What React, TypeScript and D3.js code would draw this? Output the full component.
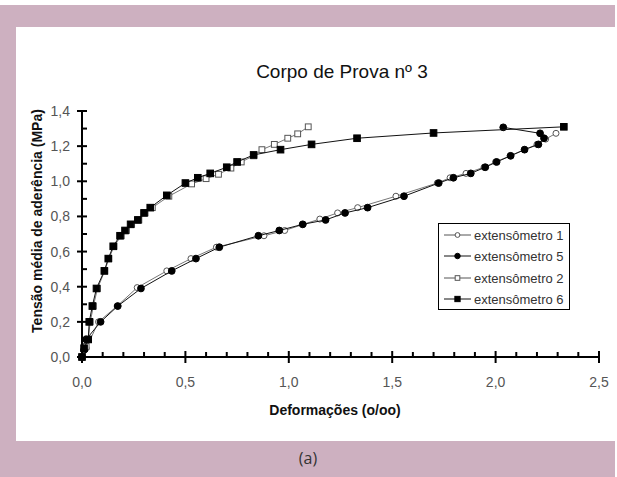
import React from "react";
import * as d3 from "d3";

const titleText = "Corpo de Prova nº 3";
const xTitle = "Deformações (o/oo)";
const yTitle = "Tensão média de aderência (MPa)";
const caption = "(a)";

const xTicks = [0, 0.5, 1.0, 1.5, 2.0, 2.5];
const yTicks = [0, 0.2, 0.4, 0.6, 0.8, 1.0, 1.2, 1.4];
const xMinor = [0.1, 0.2, 0.3, 0.4, 0.6, 0.7, 0.8, 0.9, 1.1, 1.2, 1.3, 1.4, 1.6, 1.7, 1.8, 1.9, 2.1, 2.2, 2.3, 2.4];
const yMinor = [0.1, 0.3, 0.5, 0.7, 0.9, 1.1, 1.3];

const ext1X = [0, 0.02, 0.08, 0.17, 0.267, 0.41, 0.527, 0.65, 0.88, 0.98, 1.07, 1.15, 1.236, 1.333, 1.518, 1.718, 1.78, 1.857, 1.944, 2.0, 2.07, 2.14, 2.2, 2.242, 2.292];
const ext1Y = [0, 0.05, 0.2, 0.29, 0.395, 0.49, 0.56, 0.625, 0.69, 0.72, 0.755, 0.785, 0.82, 0.85, 0.915, 0.99, 1.02, 1.045, 1.08, 1.11, 1.145, 1.18, 1.21, 1.24, 1.273];

const ext5X = [0, 0.01, 0.02, 0.09, 0.173, 0.285, 0.434, 0.551, 0.664, 0.853, 0.954, 1.067, 1.178, 1.272, 1.381, 1.557, 1.725, 1.796, 1.88, 1.95, 2.005, 2.073, 2.14, 2.207, 2.234, 2.215, 2.037];
const ext5Y = [0, 0.04, 0.1, 0.2, 0.29, 0.39, 0.49, 0.56, 0.625, 0.69, 0.72, 0.755, 0.78, 0.82, 0.85, 0.915, 0.99, 1.02, 1.045, 1.08, 1.11, 1.145, 1.18, 1.21, 1.245, 1.273, 1.307];

const ext2X = [0, 0.02, 0.03, 0.04, 0.055, 0.075, 0.11, 0.13, 0.155, 0.19, 0.215, 0.24, 0.275, 0.305, 0.34, 0.42, 0.53, 0.6, 0.66, 0.72, 0.77, 0.83, 0.87, 0.93, 0.995, 1.043, 1.094];
const ext2Y = [0, 0.06, 0.1, 0.2, 0.29, 0.39, 0.49, 0.56, 0.63, 0.69, 0.72, 0.755, 0.78, 0.82, 0.85, 0.915, 0.985, 1.015, 1.04, 1.075, 1.11, 1.145, 1.18, 1.21, 1.245, 1.27, 1.31];

const ext6X = [0, 0.01, 0.03, 0.035, 0.05, 0.07, 0.108, 0.127, 0.151, 0.184, 0.208, 0.235, 0.27, 0.3, 0.33, 0.41, 0.5, 0.56, 0.62, 0.7, 0.75, 0.83, 0.96, 1.11, 1.33, 1.7, 2.33];
const ext6Y = [0, 0.05, 0.1, 0.2, 0.29, 0.39, 0.49, 0.56, 0.63, 0.69, 0.72, 0.755, 0.78, 0.82, 0.85, 0.92, 0.99, 1.02, 1.045, 1.08, 1.11, 1.15, 1.18, 1.21, 1.245, 1.275, 1.31];

type Series = { name: string; xs: number[]; ys: number[]; shape: "circle" | "square"; filled: boolean };
const seriesList: Series[] = [
  { name: "extensômetro 1", xs: ext1X, ys: ext1Y, shape: "circle", filled: false },
  { name: "extensômetro 5", xs: ext5X, ys: ext5Y, shape: "circle", filled: true },
  { name: "extensômetro 2", xs: ext2X, ys: ext2Y, shape: "square", filled: false },
  { name: "extensômetro 6", xs: ext6X, ys: ext6Y, shape: "square", filled: true },
];

const FONT = "'Liberation Sans', Arial, sans-serif";
const PINK = "#cdb0c0";

function Marker({ s, cx, cy, k = 1 }: { s: Series; cx: number; cy: number; k?: number }) {
  const fill = s.filled ? "#000" : "#fff";
  const stroke = s.filled ? "#000" : "#555";
  if (s.shape === "circle") {
    return <circle cx={cx} cy={cy} r={(s.filled ? 3.4 : 3.0) * k} fill={fill} stroke={stroke} strokeWidth={1} />;
  }
  const h = (s.filled ? 3.3 : 2.9) * k;
  return <rect x={cx - h} y={cy - h} width={2 * h} height={2 * h} fill={fill} stroke={stroke} strokeWidth={1} />;
}

export default function App() {
  const x = d3.scaleLinear().domain([0, 2.5]).range([82, 599]);
  const y = d3.scaleLinear().domain([0, 1.4]).range([357, 111]);
  const fmt = (v: number) => d3.format(".1f")(v).replace(".", ",");
  const line = d3
    .line<[number, number]>()
    .x((d) => x(d[0]))
    .y((d) => y(d[1]));

  const legendRows = [235, 256, 278, 299];

  return (
    <svg width={617} height={477} style={{ position: "absolute", left: 0, top: 0 }} xmlns="http://www.w3.org/2000/svg">
      <rect x={0} y={0} width={617} height={477} fill="#fff" />
      <rect x={0} y={5} width={615} height={472} fill={PINK} />
      <rect x={16} y={27} width={601} height={414} fill="#fff" />

      <text x={342} y={78} textAnchor="middle" fontFamily={FONT} fontSize={19} fill="#111">
        {titleText}
      </text>

      {seriesList.map((s) => {
        const pts = s.xs.map((v, i) => [v, s.ys[i]] as [number, number]);
        return (
          <g key={s.name}>
            <path d={line(pts) || ""} fill="none" stroke={s.filled ? "#111" : "#777"} strokeWidth={1} />
            {pts.map((p, i) => (
              <Marker key={i} s={s} cx={x(p[0])} cy={y(p[1])} />
            ))}
          </g>
        );
      })}

      <g stroke="#000" strokeWidth={2}>
        <line x1={x(0)} x2={x(0)} y1={y(1.4)} y2={y(0)} />
        <line x1={x(0)} x2={x(2.5)} y1={y(0)} y2={y(0)} />
        {yTicks.map((t) => (
          <line key={"yt" + t} x1={x(0) - 5} x2={x(0) + 5} y1={y(t)} y2={y(t)} />
        ))}
        {yMinor.map((t) => (
          <line key={"ym" + t} x1={x(0)} x2={x(0) + 5} y1={y(t)} y2={y(t)} />
        ))}
        {xTicks.map((t) => (
          <line key={"xt" + t} x1={x(t)} x2={x(t)} y1={y(0) - 6} y2={y(0) + 6} />
        ))}
        {xMinor.map((t) => (
          <line key={"xm" + t} x1={x(t)} x2={x(t)} y1={y(0) - 5} y2={y(0)} />
        ))}
      </g>
      {yTicks.map((t) => (
        <text key={"yl" + t} x={70} y={y(t) + 5} textAnchor="end" fontFamily={FONT} fontSize={14} fill="#555">
          {fmt(t)}
        </text>
      ))}
      {xTicks.map((t) => (
        <text key={"xl" + t} x={x(t)} y={387} textAnchor="middle" fontFamily={FONT} fontSize={14} fill="#555">
          {fmt(t)}
        </text>
      ))}
      <text x={335} y={415} textAnchor="middle" fontFamily={FONT} fontSize={14} fontWeight="bold" fill="#111">
        {xTitle}
      </text>
      <text
        transform={`translate(42, 221) rotate(-90)`}
        textAnchor="middle"
        fontFamily={FONT}
        fontSize={14}
        fontWeight="bold"
        fill="#111"
      >
        {yTitle}
      </text>

      <rect x={438.5} y={223.5} width={131} height={86} fill="#fff" stroke="#000" strokeWidth={1} />
      {seriesList.map((s, i) => (
        <g key={"lg" + s.name}>
          <line x1={444} x2={471} y1={legendRows[i]} y2={legendRows[i]} stroke={s.filled ? "#111" : "#555"} strokeWidth={1} />
          <Marker s={s} cx={457.5} cy={legendRows[i]} k={0.8} />
          <text x={474} y={legendRows[i] + 4.5} fontFamily={FONT} fontSize={13} fill="#333">
            {s.name}
          </text>
        </g>
      ))}

      <text x={308} y={464} textAnchor="middle" fontFamily="'Open Sans', sans-serif" fontSize={16} fill="#333">
        {caption}
      </text>
    </svg>
  );
}
